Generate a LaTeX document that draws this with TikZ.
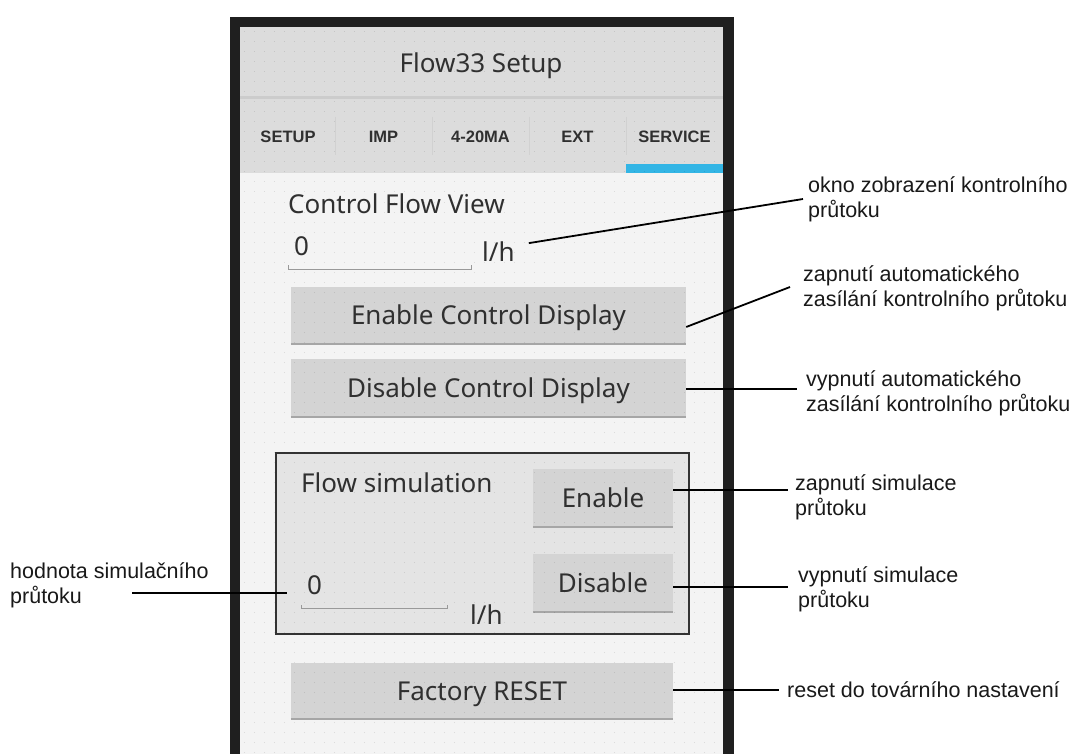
\documentclass[tikz,border=0pt]{standalone}
\usepackage{fontspec}
\setmainfont{Liberation Sans}
\newfontfamily\uifont{Noto Sans}
\usetikzlibrary{calc}
\definecolor{hdr}{HTML}{DCDCDC}
\definecolor{bgc}{HTML}{F4F4F4}
\definecolor{btnc}{HTML}{D4D4D4}
\definecolor{simbg}{HTML}{E4E4E4}
\definecolor{uitext}{HTML}{303030}
\definecolor{tabblue}{HTML}{33B5E5}
\begin{document}
\begin{tikzpicture}[x=1pt,y=-1pt,
  uitxt/.style={font=\uifont\fontsize{26}{30}\selectfont, text=uitext, inner sep=0pt},
  captxt/.style={font=\uifont\fontsize{26}{30}\selectfont, text=uitext, inner sep=0pt, text height=18.6pt, text depth=0pt},
  tabtxt/.style={font=\bfseries\fontsize{16.5}{20}\selectfont, text=uitext, inner sep=0pt, text height=12pt, text depth=0pt},
  uibtn/.style={captxt, fill=btnc, rectangle},
  shadowline/.style={draw=black!35, line width=1.5pt},
  simbox/.style={draw=black!80, line width=1.3pt, fill=simbg, rectangle, inner sep=0pt},
  fieldline/.style={draw=black!40, line width=1pt},
  anno/.style={font=\fontsize{21.5}{25}\selectfont, align=left, anchor=west, inner sep=0pt, text=black!90},
  leader/.style={draw=black, line width=1.8pt},
  dotgrid/.style={draw=black, opacity=0.1, line width=1pt, dash pattern=on 1pt off 9pt}
]
\useasboundingbox (0,0) rectangle (1078,754);
\fill[white] (0,0) rectangle (1078,754);
% phone frame
\fill[black!88] (230,17) rectangle (734,754);
\fill[hdr] (240,27) rectangle (723,173);
\fill[bgc] (240,173) rectangle (723,754);
\fill[black!20] (240,96) rectangle (723,99);
\foreach \xx in {335,432,529,626} \draw[black!18, line width=1pt] (\xx,117) -- (\xx,155);
\fill[tabblue] (626,164) rectangle (723,173);

% header and tabs
\node[captxt] (title) at (481,63) {Flow33 Setup};
\node[tabtxt] (t1) at (288,137) {SETUP};
\node[tabtxt] (t2) at (383.5,137) {IMP};
\node[tabtxt] (t3) at (480.5,137) {4-20MA};
\node[tabtxt] (t4) at (577.5,137) {EXT};
\node[tabtxt] (t5) at (674.5,137) {SERVICE};

% control flow view
\node[uitxt, anchor=base west] (cfv) at (288,213) {Control Flow View};
\node[uitxt, anchor=base west] (v1) at (294,255) {0};
\draw[fieldline] (288,265) -- (288,269) -- (471,269) -- (471,265);
\node[uitxt, anchor=base west] (lh1) at (482,261) {l/h};

\node[uibtn, minimum width=395pt, minimum height=57pt] (btnA) at (488.5,315.5) {Enable Control Display};
\draw[shadowline] (btnA.south west) -- (btnA.south east);
\node[uibtn, minimum width=395pt, minimum height=58pt] (btnB) at (488.5,388) {Disable Control Display};
\draw[shadowline] (btnB.south west) -- (btnB.south east);

% flow simulation
\node[simbox, minimum width=413pt, minimum height=181pt] (sim) at (482.5,543.5) {};
\node[uitxt, anchor=base west] (fs) at (301,492) {Flow simulation};
\node[uibtn, minimum width=140pt, minimum height=58pt] (btnC) at (603,498) {Enable};
\draw[shadowline] (btnC.south west) -- (btnC.south east);
\node[uibtn, minimum width=140pt, minimum height=58pt] (btnD) at (603,583) {Disable};
\draw[shadowline] (btnD.south west) -- (btnD.south east);
\node[uitxt, anchor=base west] (v2) at (307,594) {0};
\draw[fieldline] (301,605) -- (301,608) -- (447,608) -- (447,605);
\node[uitxt, anchor=base west] (lh2) at (470,624) {l/h};

\node[uibtn, minimum width=382pt, minimum height=56pt] (btnF) at (482,691) {Factory RESET};
\draw[shadowline] (btnF.south west) -- (btnF.south east);

% dot grid
\foreach \yy in {32,42,...,752} \draw[dotgrid] (244,\yy) -- (723,\yy);

% annotations
\node[anno] (a1) at (808,199.5) {okno zobrazení kontrolního\\průtoku};
\node[anno] (a2) at (803,288.5) {zapnutí automatického\\zasílání kontrolního průtoku};
\node[anno] (a3) at (806,393.5) {vypnutí automatického\\zasílání kontrolního průtoku};
\node[anno] (a4) at (795,497.5) {zapnutí simulace\\průtoku};
\node[anno] (a5) at (798,589.5) {vypnutí simulace\\průtoku};
\node[anno] (a6) at (787,690) {reset do továrního nastavení};
\node[anno] (a7) at (10,585.5) {hodnota simulačního\\průtoku};

\coordinate (c1) at (803,199);
\coordinate (c2) at (790,287);
\coordinate (c3) at (797,389);
\coordinate (c4) at (788,490);
\coordinate (c5) at (788,587);
\coordinate (c6) at (779,690);
\coordinate (c7) at (132,593);

\draw[leader] ([xshift=14pt,yshift=8pt]lh1.east) -- (c1);
\draw[leader] ($(btnA.south east)!0.3!(btnA.north east)$) -- (c2);
\draw[leader] (btnB.east |- c3) -- (c3);
\draw[leader] (btnC.east |- c4) -- (c4);
\draw[leader] (btnD.east |- c5) -- (c5);
\draw[leader] (btnF.east |- c6) -- (c6);
\draw[leader] (c7) -- ([xshift=-20pt]v2.west |- c7);
\end{tikzpicture}
\end{document}
